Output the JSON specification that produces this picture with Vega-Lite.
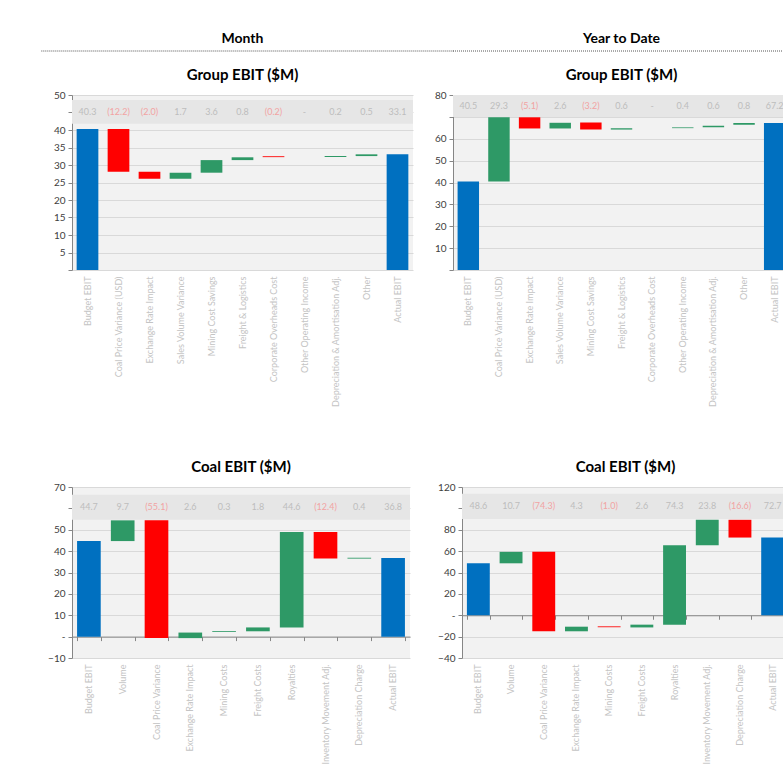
{
  "$schema": "https://vega.github.io/schema/vega-lite/v6.json",
  "background": "white",
  "padding": {"left": 40, "top": 32, "right": 0, "bottom": 0},
  "config": {
    "font": "Lato",
    "title": {"font": "Lato", "fontSize": 15, "fontWeight": "bold", "color": "#000000", "anchor": "middle", "offset": 7},
    "axis": {"labelFont": "Lato", "labelColor": "#404040", "labelFontSize": 10, "title": null},
    "axisY": {"grid": true, "gridColor": "#d9d9d9", "domainColor": "#868686", "tickColor": "#868686", "tickSize": 4, "labelPadding": 3, "minExtent": 31, "maxExtent": 31, "labelOverlap": false, "tickCount": 60},
    "axisX": {"domain": false, "ticks": false, "labelAngle": -90, "labelColor": "#c4c4c4", "labelFontSize": 9, "labelPadding": 6, "labelLimit": 250, "grid": false},
    "bar": {"strokeWidth": 0}
  },
  "datasets": {
    "wf": [
      {"chart": "gm", "order": 1, "cat": "Budget EBIT", "start": 0, "end": 40.3, "type": "total", "lbl": "40.3"},
      {"chart": "gm", "order": 2, "cat": "Coal Price Variance (USD)", "start": 40.3, "end": 28.1, "type": "dec", "lbl": "(12.2)"},
      {"chart": "gm", "order": 3, "cat": "Exchange Rate Impact", "start": 28.1, "end": 26.1, "type": "dec", "lbl": "(2.0)"},
      {"chart": "gm", "order": 4, "cat": "Sales Volume Variance", "start": 26.1, "end": 27.8, "type": "inc", "lbl": "1.7"},
      {"chart": "gm", "order": 5, "cat": "Mining Cost Savings", "start": 27.8, "end": 31.4, "type": "inc", "lbl": "3.6"},
      {"chart": "gm", "order": 6, "cat": "Freight & Logistics", "start": 31.4, "end": 32.2, "type": "inc", "lbl": "0.8"},
      {"chart": "gm", "order": 7, "cat": "Corporate Overheads Cost", "start": 32.5, "end": 32.25, "type": "dec", "lbl": "(0.2)"},
      {"chart": "gm", "order": 8, "cat": "Other Operating Income", "start": 32.3, "end": 32.3, "type": "inc", "lbl": "-"},
      {"chart": "gm", "order": 9, "cat": "Depreciation & Amortisation Adj.", "start": 32.3, "end": 32.55, "type": "inc", "lbl": "0.2"},
      {"chart": "gm", "order": 10, "cat": "Other", "start": 32.55, "end": 33.05, "type": "inc", "lbl": "0.5"},
      {"chart": "gm", "order": 11, "cat": "Actual EBIT", "start": 0, "end": 33.05, "type": "total", "lbl": "33.1"},

      {"chart": "gy", "order": 1, "cat": "Budget EBIT", "start": 0, "end": 40.5, "type": "total", "lbl": "40.5"},
      {"chart": "gy", "order": 2, "cat": "Coal Price Variance (USD)", "start": 40.5, "end": 69.8, "type": "inc", "lbl": "29.3"},
      {"chart": "gy", "order": 3, "cat": "Exchange Rate Impact", "start": 69.8, "end": 64.7, "type": "dec", "lbl": "(5.1)"},
      {"chart": "gy", "order": 4, "cat": "Sales Volume Variance", "start": 64.7, "end": 67.3, "type": "inc", "lbl": "2.6"},
      {"chart": "gy", "order": 5, "cat": "Mining Cost Savings", "start": 67.4, "end": 64.2, "type": "dec", "lbl": "(3.2)"},
      {"chart": "gy", "order": 6, "cat": "Freight & Logistics", "start": 64.2, "end": 64.8, "type": "inc", "lbl": "0.6"},
      {"chart": "gy", "order": 7, "cat": "Corporate Overheads Cost", "start": 64.8, "end": 64.8, "type": "inc", "lbl": "-"},
      {"chart": "gy", "order": 8, "cat": "Other Operating Income", "start": 64.85, "end": 65.2, "type": "inc", "lbl": "0.4"},
      {"chart": "gy", "order": 9, "cat": "Depreciation & Amortisation Adj.", "start": 65.3, "end": 65.9, "type": "inc", "lbl": "0.6"},
      {"chart": "gy", "order": 10, "cat": "Other", "start": 66.4, "end": 67.2, "type": "inc", "lbl": "0.8"},
      {"chart": "gy", "order": 11, "cat": "Actual EBIT", "start": 0, "end": 67.2, "type": "total", "lbl": "67.2"},

      {"chart": "cm", "order": 1, "cat": "Budget EBIT", "start": 0, "end": 44.7, "type": "total", "lbl": "44.7"},
      {"chart": "cm", "order": 2, "cat": "Volume", "start": 44.7, "end": 54.4, "type": "inc", "lbl": "9.7"},
      {"chart": "cm", "order": 3, "cat": "Coal Price Variance", "start": 54.4, "end": -0.7, "type": "dec", "lbl": "(55.1)"},
      {"chart": "cm", "order": 4, "cat": "Exchange Rate Impact", "start": -0.7, "end": 1.9, "type": "inc", "lbl": "2.6"},
      {"chart": "cm", "order": 5, "cat": "Mining Costs", "start": 2.15, "end": 2.55, "type": "inc", "lbl": "0.3"},
      {"chart": "cm", "order": 6, "cat": "Freight Costs", "start": 2.5, "end": 4.3, "type": "inc", "lbl": "1.8"},
      {"chart": "cm", "order": 7, "cat": "Royalties", "start": 4.3, "end": 48.9, "type": "inc", "lbl": "44.6"},
      {"chart": "cm", "order": 8, "cat": "Inventory Movement Adj.", "start": 48.9, "end": 36.5, "type": "dec", "lbl": "(12.4)"},
      {"chart": "cm", "order": 9, "cat": "Depreciation Charge", "start": 36.5, "end": 36.9, "type": "inc", "lbl": "0.4"},
      {"chart": "cm", "order": 10, "cat": "Actual EBIT", "start": 0, "end": 36.8, "type": "total", "lbl": "36.8"},

      {"chart": "cy", "order": 1, "cat": "Budget EBIT", "start": 0, "end": 48.6, "type": "total", "lbl": "48.6"},
      {"chart": "cy", "order": 2, "cat": "Volume", "start": 48.6, "end": 59.3, "type": "inc", "lbl": "10.7"},
      {"chart": "cy", "order": 3, "cat": "Coal Price Variance", "start": 59.3, "end": -15.0, "type": "dec", "lbl": "(74.3)"},
      {"chart": "cy", "order": 4, "cat": "Exchange Rate Impact", "start": -15.0, "end": -10.7, "type": "inc", "lbl": "4.3"},
      {"chart": "cy", "order": 5, "cat": "Mining Costs", "start": -10.4, "end": -11.2, "type": "dec", "lbl": "(1.0)"},
      {"chart": "cy", "order": 6, "cat": "Freight Costs", "start": -11.4, "end": -8.8, "type": "inc", "lbl": "2.6"},
      {"chart": "cy", "order": 7, "cat": "Royalties", "start": -8.8, "end": 65.5, "type": "inc", "lbl": "74.3"},
      {"chart": "cy", "order": 8, "cat": "Inventory Movement Adj.", "start": 65.5, "end": 89.3, "type": "inc", "lbl": "23.8"},
      {"chart": "cy", "order": 9, "cat": "Depreciation Charge", "start": 89.3, "end": 72.7, "type": "dec", "lbl": "(16.6)"},
      {"chart": "cy", "order": 10, "cat": "Actual EBIT", "start": 0, "end": 72.7, "type": "total", "lbl": "72.7"}
    ]
  },
  "spacing": 16,
  "vconcat": [
    {
      "bounds": "flush",
      "spacing": 40,
      "hconcat": [
        {
          "width": 341, "height": 1,
          "view": {"fill": null, "stroke": null},
          "title": {"text": "Month", "fontSize": 14, "offset": 4},
          "data": {"values": [{}]},
          "mark": {"type": "rule", "strokeDash": [1, 1], "color": "#555555", "strokeWidth": 1},
          "encoding": {
            "x": {"datum": -0.09, "type": "quantitative", "scale": {"domain": [0, 1]}, "axis": null},
            "x2": {"datum": 1.12},
            "y": {"datum": 0, "type": "quantitative", "scale": {"domain": [0, 1]}, "axis": null}
          }
        },
        {
          "width": 337, "height": 1,
          "view": {"fill": null, "stroke": null},
          "title": {"text": "Year to Date", "fontSize": 14, "offset": 4},
          "data": {"values": [{}]},
          "mark": {"type": "rule", "strokeDash": [1, 1], "color": "#555555", "strokeWidth": 1},
          "encoding": {
            "x": {"datum": 0, "type": "quantitative", "scale": {"domain": [0, 1]}, "axis": null},
            "x2": {"datum": 1.1},
            "y": {"datum": 0, "type": "quantitative", "scale": {"domain": [0, 1]}, "axis": null}
          }
        }
      ]
    },
    {
      "bounds": "flush",
      "spacing": 40,
      "hconcat": [
        {
          "width": 341, "height": 175,
          "view": {"fill": "#f2f2f2", "stroke": null},
          "title": {"text": "Group EBIT ($M)"},
          "layer": [
            {
              "data": {"name": "wf"},
              "transform": [{"filter": "datum.chart === 'gm'"}],
              "mark": {"type": "bar"},
              "encoding": {
                "x": {"field": "cat", "type": "nominal", "sort": {"field": "order", "op": "min"}, "scale": {"paddingInner": 0.3, "paddingOuter": 0.15}, "axis": {"title": "\u00a0", "titlePadding": 27, "titleFontSize": 10}},
                "y": {"field": "start", "type": "quantitative", "scale": {"domain": [0, 50], "nice": false, "zero": false}, "axis": {"values": [0, 5, 10, 15, 20, 25, 30, 35, 40, 45, 50], "labelExpr": "datum.value == 0 || datum.value == 45 ? '' : datum.label"}},
                "y2": {"field": "end"},
                "color": {"field": "type", "type": "nominal", "scale": {"domain": ["total", "inc", "dec"], "range": ["#0070C0", "#2E9966", "#FF0000"]}, "legend": null}
              }
            },
            {
              "data": {"values": [{}]},
              "mark": {"type": "rect", "color": "#e6e6e6"},
              "encoding": {"y": {"datum": 41.8, "type": "quantitative"}, "y2": {"datum": 48.6}}
            },
            {
              "data": {"name": "wf"},
              "transform": [{"filter": "datum.chart === 'gm'"}],
              "mark": {"type": "text", "fontSize": 9},
              "encoding": {
                "x": {"field": "cat", "type": "nominal", "sort": {"field": "order", "op": "min"}},
                "y": {"datum": 45.2, "type": "quantitative"},
                "text": {"field": "lbl"},
                "color": {"condition": {"test": "datum.type === 'dec'", "value": "#f2a3a3"}, "value": "#bdbdbd"}
              }
            }
          ]
        },
        {
          "width": 337, "height": 175,
          "view": {"fill": "#f2f2f2", "stroke": null},
          "title": {"text": "Group EBIT ($M)"},
          "layer": [
            {
              "data": {"name": "wf"},
              "transform": [{"filter": "datum.chart === 'gy'"}],
              "mark": {"type": "bar"},
              "encoding": {
                "x": {"field": "cat", "type": "nominal", "sort": {"field": "order", "op": "min"}, "scale": {"paddingInner": 0.3, "paddingOuter": 0.15}},
                "y": {"field": "start", "type": "quantitative", "scale": {"domain": [0, 80], "nice": false, "zero": false}, "axis": {"values": [0, 10, 20, 30, 40, 50, 60, 70, 80], "labelExpr": "datum.value == 0 || datum.value == 70 ? '' : datum.label"}},
                "y2": {"field": "end"},
                "color": {"field": "type", "type": "nominal", "scale": {"domain": ["total", "inc", "dec"], "range": ["#0070C0", "#2E9966", "#FF0000"]}, "legend": null}
              }
            },
            {
              "data": {"values": [{}]},
              "mark": {"type": "rect", "color": "#e6e6e6"},
              "encoding": {"y": {"datum": 69.9, "type": "quantitative"}, "y2": {"datum": 80}}
            },
            {
              "data": {"name": "wf"},
              "transform": [{"filter": "datum.chart === 'gy'"}],
              "mark": {"type": "text", "fontSize": 9},
              "encoding": {
                "x": {"field": "cat", "type": "nominal", "sort": {"field": "order", "op": "min"}},
                "y": {"datum": 75, "type": "quantitative"},
                "text": {"field": "lbl"},
                "color": {"condition": {"test": "datum.type === 'dec'", "value": "#f2a3a3"}, "value": "#bdbdbd"}
              }
            }
          ]
        }
      ]
    },
    {
      "bounds": "flush",
      "spacing": 52,
      "hconcat": [
        {
          "width": 338, "height": 171,
          "view": {"fill": "#f2f2f2", "stroke": null},
          "title": {"text": "Coal EBIT ($M)"},
          "resolve": {"axis": {"x": "independent"}},
          "layer": [
            {
              "data": {"name": "wf"},
              "transform": [{"filter": "datum.chart === 'cm'"}],
              "mark": {"type": "bar"},
              "encoding": {
                "x": {"field": "cat", "type": "nominal", "sort": {"field": "order", "op": "min"}, "scale": {"paddingInner": 0.3, "paddingOuter": 0.15}},
                "y": {"field": "start", "type": "quantitative", "scale": {"domain": [-10, 70], "nice": false, "zero": false}, "axis": {"values": [-10, 0, 10, 20, 30, 40, 50, 60, 70], "labelExpr": "datum.value == 0 ? '-' : datum.value == 60 ? '' : datum.label"}},
                "y2": {"field": "end"},
                "color": {"field": "type", "type": "nominal", "scale": {"domain": ["total", "inc", "dec"], "range": ["#0070C0", "#2E9966", "#FF0000"]}, "legend": null}
              }
            },
            {
              "data": {"values": [{}]},
              "mark": {"type": "rect", "color": "#e6e6e6"},
              "encoding": {"y": {"datum": 54.7, "type": "quantitative"}, "y2": {"datum": 66.4}}
            },
            {
              "data": {"name": "wf"},
              "transform": [{"filter": "datum.chart === 'cm'"}],
              "mark": {"type": "text", "fontSize": 9},
              "encoding": {
                "x": {"field": "cat", "type": "nominal", "sort": {"field": "order", "op": "min"}, "axis": {"orient": "top", "labels": false, "domain": true, "ticks": true, "tickBand": "extent", "offset": -149.6, "domainColor": "#868686", "tickColor": "#868686", "tickSize": -4}},
                "y": {"datum": 60.5, "type": "quantitative"},
                "text": {"field": "lbl"},
                "color": {"condition": {"test": "datum.type === 'dec'", "value": "#f2a3a3"}, "value": "#bdbdbd"}
              }
            }
          ]
        },
        {
          "width": 327, "height": 171,
          "view": {"fill": "#f2f2f2", "stroke": null},
          "title": {"text": "Coal EBIT ($M)"},
          "resolve": {"axis": {"x": "independent"}},
          "layer": [
            {
              "data": {"name": "wf"},
              "transform": [{"filter": "datum.chart === 'cy'"}],
              "mark": {"type": "bar"},
              "encoding": {
                "x": {"field": "cat", "type": "nominal", "sort": {"field": "order", "op": "min"}, "scale": {"paddingInner": 0.3, "paddingOuter": 0.15}},
                "y": {"field": "start", "type": "quantitative", "scale": {"domain": [-40, 120], "nice": false, "zero": false}, "axis": {"values": [-40, -20, 0, 20, 40, 60, 80, 100, 120], "labelExpr": "datum.value == 0 ? '-' : datum.value == 100 ? '' : datum.label"}},
                "y2": {"field": "end"},
                "color": {"field": "type", "type": "nominal", "scale": {"domain": ["total", "inc", "dec"], "range": ["#0070C0", "#2E9966", "#FF0000"]}, "legend": null}
              }
            },
            {
              "data": {"values": [{}]},
              "mark": {"type": "rect", "color": "#e6e6e6"},
              "encoding": {"y": {"datum": 90, "type": "quantitative"}, "y2": {"datum": 113.6}}
            },
            {
              "data": {"name": "wf"},
              "transform": [{"filter": "datum.chart === 'cy'"}],
              "mark": {"type": "text", "fontSize": 9},
              "encoding": {
                "x": {"field": "cat", "type": "nominal", "sort": {"field": "order", "op": "min"}, "axis": {"orient": "top", "labels": false, "domain": true, "ticks": true, "tickBand": "extent", "offset": -128.25, "domainColor": "#868686", "tickColor": "#868686", "tickSize": -4}},
                "y": {"datum": 101.8, "type": "quantitative"},
                "text": {"field": "lbl"},
                "color": {"condition": {"test": "datum.type === 'dec'", "value": "#f2a3a3"}, "value": "#bdbdbd"}
              }
            }
          ]
        }
      ]
    }
  ]
}
